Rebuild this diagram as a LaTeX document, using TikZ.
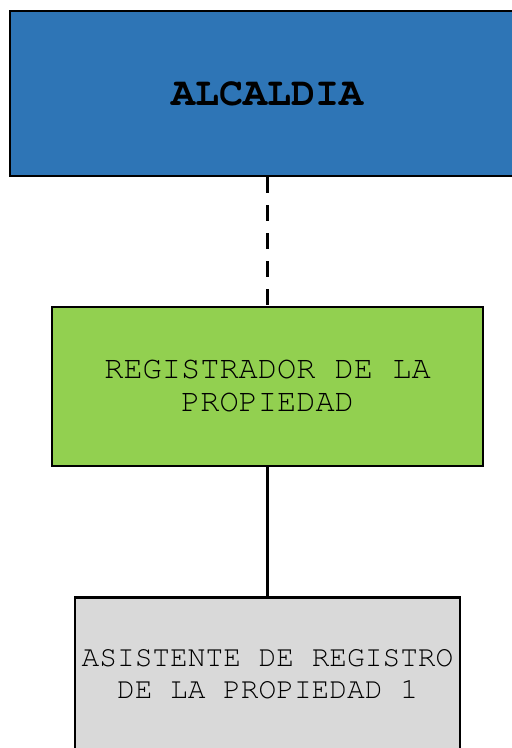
\documentclass[tikz,border=0pt]{standalone}
\usepackage{fontspec}
\newfontfamily\monofont{TeX Gyre Cursor}
\usetikzlibrary{positioning}
\definecolor{alcblue}{HTML}{2E75B6}
\definecolor{reggreen}{HTML}{92D050}
\definecolor{asisgray}{HTML}{D9D9D9}
\begin{document}
\begin{tikzpicture}[x=0.5pt,y=-0.5pt,
    box/.style = {draw, line width=1.1pt, rectangle, align=center, inner sep=0pt},
    link/.style = {line width=1.6pt}]
				\useasboundingbox (0,0) rectangle (512,748);
				\clip (0,0) rectangle (512,748);
				\begin{scope}[every node/.style={box}]
					\node[fill=alcblue, minimum width=257.5pt, minimum height=82.5pt,
					  font=\monofont\fontsize{20}{22}\selectfont\bfseries] (alcaldia) at (267.5,93.5) {ALCALDIA};
					\node[fill=reggreen, minimum width=215.5pt, minimum height=79.5pt,
					  font=\monofont\fontsize{16}{16.5}\selectfont] (registrador) at (267.5,386.5) {REGISTRADOR DE LA\\PROPIEDAD};
					\node[fill=asisgray, minimum width=192.5pt, minimum height=77pt,
					  font=\monofont\fontsize{14.75}{16}\selectfont] (asistente) at (267.5,674.5) {ASISTENTE DE REGISTRO\\DE LA PROPIEDAD 1};
				\end{scope}
				\draw [link, dash pattern=on 8pt off 6pt] (alcaldia) -- (registrador);
				\draw [link] (registrador) -- (asistente);
			\end{tikzpicture}
\end{document}
